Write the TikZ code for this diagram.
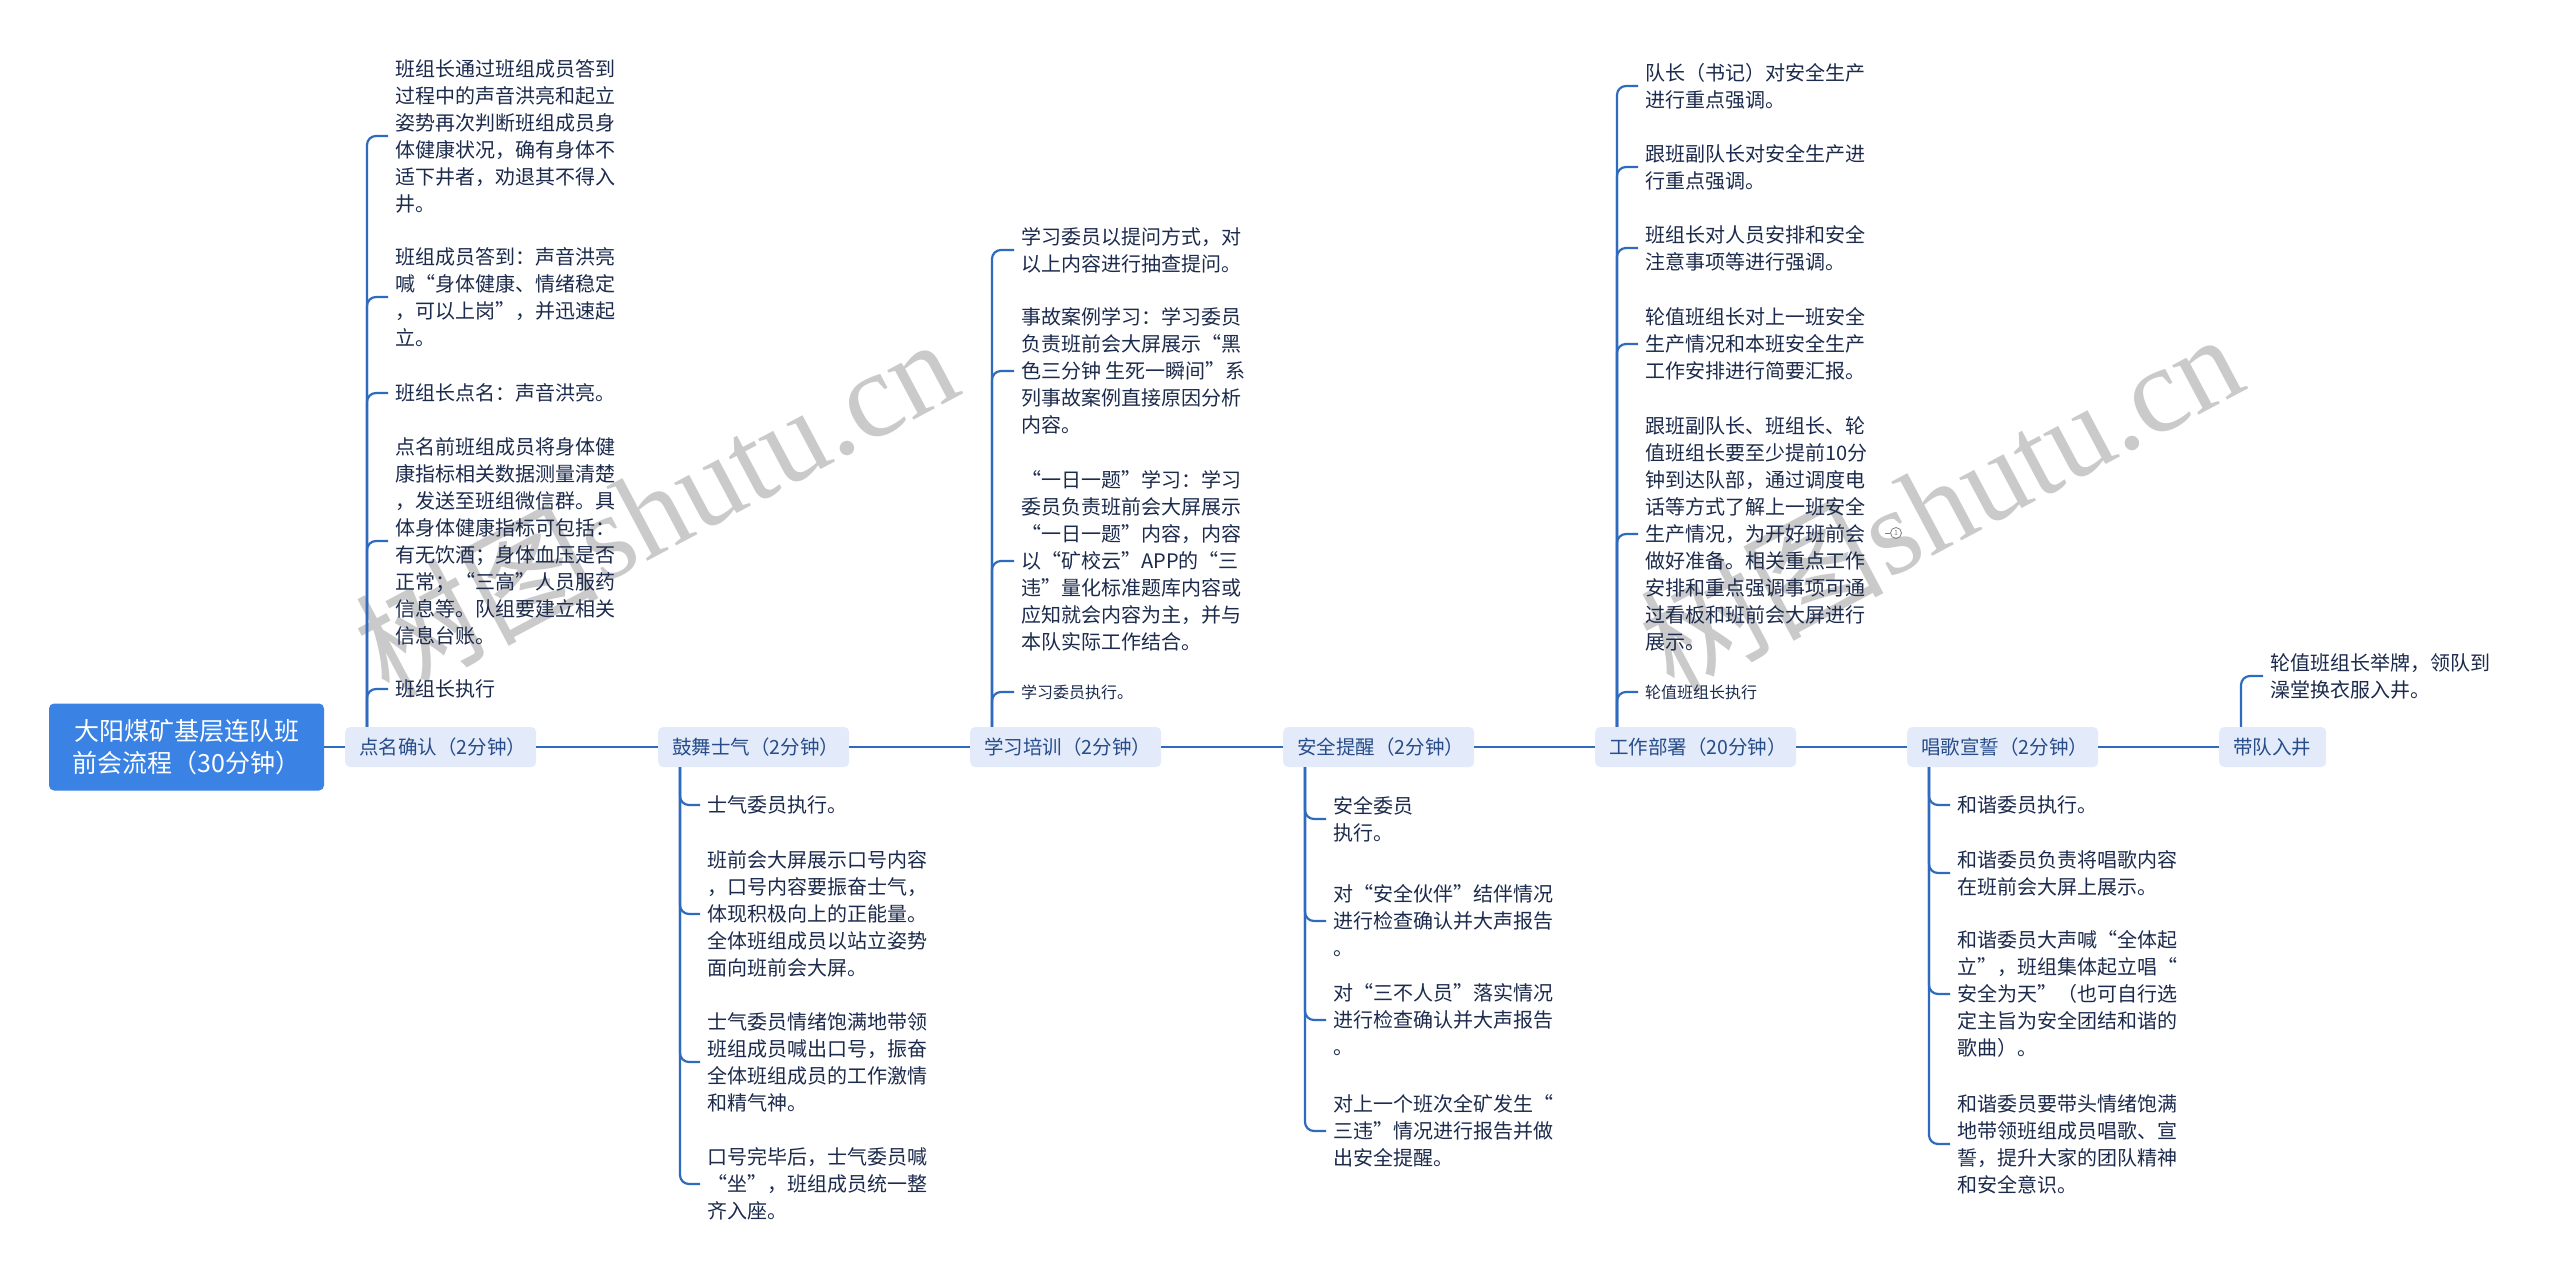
\documentclass[tikz,border=0pt]{standalone}
\usepackage{fontspec}
\setmainfont{Noto Sans CJK SC}
\newfontfamily\wmlatin{Liberation Serif}
\usetikzlibrary{calc}
\definecolor{rootblue}{HTML}{3A82E4}
\definecolor{lonefill}{HTML}{E3EBFA}
\definecolor{lonetext}{HTML}{264C8A}
\definecolor{childtext}{HTML}{1C2A4C}
\definecolor{linkblue}{HTML}{2E6BBE}
\definecolor{wmgray}{HTML}{CACACA}
\begin{document}
\begin{tikzpicture}[x=1pt,y=-1pt,
  rootbox/.style={fill=rootblue, rounded corners=5pt, text=white,
    font=\fontsize{25}{32}\selectfont, align=center,
    minimum width=275pt, minimum height=87pt, inner sep=0pt},
  lone/.style={fill=lonefill, rounded corners=5pt, text=lonetext,
    font=\fontsize{19.5}{22}\selectfont, align=left, anchor=west,
    minimum height=40pt, inner xsep=14pt, inner ysep=0pt},
  leaf/.style={text=childtext, font=\fontsize{20}{27}\selectfont,
    align=left, anchor=west, inner xsep=7pt, inner ysep=0pt},
  leafsmall/.style={leaf, font=\fontsize{16}{22}\selectfont},
  conn/.style={draw=linkblue, line width=2.2pt, rounded corners=9pt},
  wm/.style={text=wmgray, font=\fontsize{122}{122}\selectfont, inner sep=0pt}
]
\useasboundingbox (0,0) rectangle (2560,1278);
\fill[white] (0,0) rectangle (2560,1278);

% watermarks
\node[wm, rotate=28] (wma) at (655,505) {树图{\wmlatin shutu.cn}};
\node[wm, rotate=28] (wmb) at (1940,500) {树图{\wmlatin shutu.cn}};

% root and main nodes
\node[rootbox] (root) at (186.5,747) {大阳煤矿基层连队班\\前会流程（30分钟）};
\node[lone, text width=163pt] (n1) at (345,747) {点名确认（2分钟）};
\node[lone, text width=163pt] (n2) at (658,747) {鼓舞士气（2分钟）};
\node[lone, text width=163pt] (n3) at (970,747) {学习培训（2分钟）};
\node[lone, text width=163pt] (n4) at (1283,747) {安全提醒（2分钟）};
\node[lone, text width=173pt] (n5) at (1595,747) {工作部署（20分钟）};
\node[lone, text width=163pt] (n6) at (1907,747) {唱歌宣誓（2分钟）};
\node[lone, text width=79pt] (n7) at (2219,747) {带队入井};

\draw[conn] (root.east) -- (n1.west);
\draw[conn] (n1.east) -- (n2.west);
\draw[conn] (n2.east) -- (n3.west);
\draw[conn] (n3.east) -- (n4.west);
\draw[conn] (n4.east) -- (n5.west);
\draw[conn] (n5.east) -- (n6.west);
\draw[conn] (n6.east) -- (n7.west);

% branch 1
\node[leaf] (a1) at (388,136) {班组长通过班组成员答到\\过程中的声音洪亮和起立\\姿势再次判断班组成员身\\体健康状况，确有身体不\\适下井者，劝退其不得入\\井。};
\node[leaf] (a2) at (388,297) {班组成员答到：声音洪亮\\喊“身体健康、情绪稳定\\，可以上岗”，并迅速起\\立。};
\node[leaf] (a3) at (388,393) {班组长点名：声音洪亮。};
\node[leaf] (a4) at (388,541) {点名前班组成员将身体健\\康指标相关数据测量清楚\\，发送至班组微信群。具\\体身体健康指标可包括：\\有无饮酒；身体血压是否\\正常；“三高”人员服药\\信息等。队组要建立相关\\信息台账。};
\node[leaf] (a5) at (388,689) {班组长执行};
\foreach \c in {a1,a2,a3,a4,a5}
  \draw[conn] ($(n1.north west)+(22,0)$) |- (\c.west);

% branch 2
\node[leaf] (b1) at (700,805) {士气委员执行。};
\node[leaf] (b2) at (700,914) {班前会大屏展示口号内容\\，口号内容要振奋士气，\\体现积极向上的正能量。\\全体班组成员以站立姿势\\面向班前会大屏。};
\node[leaf] (b3) at (700,1062) {士气委员情绪饱满地带领\\班组成员喊出口号，振奋\\全体班组成员的工作激情\\和精气神。};
\node[leaf] (b4) at (700,1184) {口号完毕后，士气委员喊\\“坐”，班组成员统一整\\齐入座。};
\foreach \c in {b1,b2,b3,b4}
  \draw[conn] ($(n2.south west)+(22,0)$) |- (\c.west);

% branch 3
\node[leaf] (c1) at (1014,250) {学习委员以提问方式，对\\以上内容进行抽查提问。};
\node[leaf] (c2) at (1014,371) {事故案例学习：学习委员\\负责班前会大屏展示“黑\\色三分钟 生死一瞬间”系\\列事故案例直接原因分析\\内容。};
\node[leaf] (c3) at (1014,561) {“一日一题”学习：学习\\委员负责班前会大屏展示\\“一日一题”内容，内容\\以“矿校云”APP的“三\\违”量化标准题库内容或\\应知就会内容为主，并与\\本队实际工作结合。};
\node[leafsmall] (c4) at (1014,692) {学习委员执行。};
\foreach \c in {c1,c2,c3,c4}
  \draw[conn] ($(n3.north west)+(22,0)$) |- (\c.west);

% branch 4
\node[leaf] (d1) at (1326,819) {安全委员\\执行。};
\node[leaf] (d2) at (1326,921) {对“安全伙伴”结伴情况\\进行检查确认并大声报告\\。};
\node[leaf] (d3) at (1326,1020) {对“三不人员”落实情况\\进行检查确认并大声报告\\。};
\node[leaf] (d4) at (1326,1131) {对上一个班次全矿发生“\\三违”情况进行报告并做\\出安全提醒。};
\foreach \c in {d1,d2,d3,d4}
  \draw[conn] ($(n4.south west)+(22,0)$) |- (\c.west);

% branch 5
\node[leaf] (e1) at (1638,86) {队长（书记）对安全生产\\进行重点强调。};
\node[leaf] (e2) at (1638,167) {跟班副队长对安全生产进\\行重点强调。};
\node[leaf] (e3) at (1638,248) {班组长对人员安排和安全\\注意事项等进行强调。};
\node[leaf] (e4) at (1638,344) {轮值班组长对上一班安全\\生产情况和本班安全生产\\工作安排进行简要汇报。};
\node[leaf] (e5) at (1638,534) {跟班副队长、班组长、轮\\值班组长要至少提前10分\\钟到达队部，通过调度电\\话等方式了解上一班安全\\生产情况，为开好班前会\\做好准备。相关重点工作\\安排和重点强调事项可通\\过看板和班前会大屏进行\\展示。};
\node[leafsmall] (e6) at (1638,692) {轮值班组长执行};
\foreach \c in {e1,e2,e3,e4,e5,e6}
  \draw[conn] ($(n5.north west)+(22,0)$) |- (\c.west);
\node[circle, draw=gray, line width=0.8pt, inner sep=0pt, minimum size=11pt,
  text=gray, font=\fontsize{7}{7}\selectfont] (note) at (1896,533) {1};
\coordinate (notedash) at (1885,533);
\draw[gray, line width=1pt] (notedash) -- (note.west);

% branch 6
\node[leaf] (f1) at (1950,805) {和谐委员执行。};
\node[leaf] (f2) at (1950,873) {和谐委员负责将唱歌内容\\在班前会大屏上展示。};
\node[leaf] (f3) at (1950,994) {和谐委员大声喊“全体起\\立”，班组集体起立唱“\\安全为天”（也可自行选\\定主旨为安全团结和谐的\\歌曲）。};
\node[leaf] (f4) at (1950,1144) {和谐委员要带头情绪饱满\\地带领班组成员唱歌、宣\\誓，提升大家的团队精神\\和安全意识。};
\foreach \c in {f1,f2,f3,f4}
  \draw[conn] ($(n6.south west)+(22,0)$) |- (\c.west);

% branch 7
\node[leaf] (g1) at (2263,676) {轮值班组长举牌，领队到\\澡堂换衣服入井。};
\draw[conn] ($(n7.north west)+(22,0)$) |- (g1.west);
\end{tikzpicture}
\end{document}
